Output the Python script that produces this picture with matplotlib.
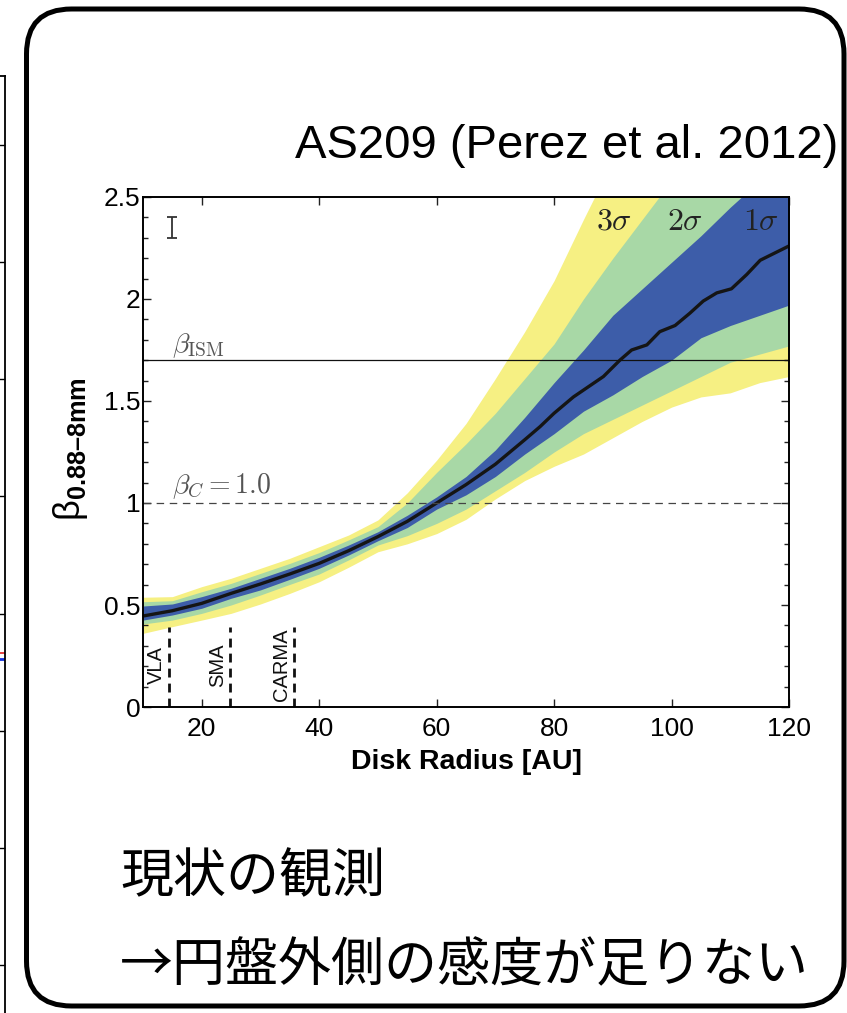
import matplotlib
matplotlib.use("Agg")
import matplotlib.pyplot as plt
from matplotlib.patches import FancyBboxPatch
from matplotlib.ticker import MultipleLocator

# ---------------- data ----------------
radius = [10, 15, 20, 25, 30, 35, 40, 45, 50, 55, 60, 65, 70, 75, 80,
          85, 90, 95, 100, 105, 110, 115, 120]

beta_3sig_lo = [0.361, 0.394, 0.426, 0.459, 0.505, 0.557, 0.614, 0.685, 0.761, 0.80, 0.85, 0.92,
                1.02, 1.11, 1.18, 1.24, 1.32, 1.40, 1.47, 1.52, 1.54, 1.59, 1.62]
beta_3sig_hi = [0.538, 0.541, 0.590, 0.631, 0.680, 0.729, 0.786, 0.843, 0.917, 1.05, 1.21, 1.39,
                1.61, 1.84, 2.09, 2.39, 2.68, 2.90, 3.10, 3.30, 3.50, 3.70, 3.90]
beta_2sig_lo = [0.407, 0.426, 0.459, 0.500, 0.549, 0.601, 0.652, 0.721, 0.794, 0.84, 0.90, 0.97,
                1.06, 1.15, 1.25, 1.34, 1.41, 1.48, 1.55, 1.62, 1.69, 1.73, 1.77]
beta_2sig_hi = [0.516, 0.521, 0.565, 0.606, 0.655, 0.704, 0.757, 0.819, 0.884, 1.00, 1.15, 1.29,
                1.44, 1.61, 1.78, 2.00, 2.20, 2.39, 2.58, 2.78, 2.98, 3.18, 3.38]
beta_1sig_lo = [0.426, 0.451, 0.484, 0.533, 0.574, 0.626, 0.680, 0.745, 0.815, 0.88, 0.97, 1.04,
                1.13, 1.24, 1.34, 1.45, 1.53, 1.62, 1.70, 1.81, 1.87, 1.92, 1.97]
beta_1sig_hi = [0.495, 0.505, 0.541, 0.582, 0.631, 0.680, 0.734, 0.794, 0.859, 0.94, 1.03, 1.13,
                1.26, 1.42, 1.59, 1.75, 1.92, 2.05, 2.18, 2.31, 2.45, 2.58, 2.71]

radius_med = [10, 15, 20, 25, 30, 35, 40, 45, 50, 55, 60, 65, 70, 75, 77.6, 80, 83.3, 88.4,
              91.2, 93.2, 95.8, 98.0, 100.6, 103.1, 105.4, 107.7, 110.2, 112.8, 115.1, 117.9, 120]
beta_med = [0.446, 0.472, 0.508, 0.557, 0.603, 0.652, 0.704, 0.766, 0.835, 0.91, 1.00, 1.09,
            1.19, 1.31, 1.374, 1.44, 1.52, 1.62, 1.70, 1.75, 1.775, 1.84, 1.87, 1.93, 1.99,
            2.03, 2.05, 2.12, 2.19, 2.23, 2.26]

beta_ism = 1.7
beta_c = 1.0
instruments = ["VLA", "SMA", "CARMA"]
instrument_radius = [14.4, 24.8, 35.7]
instrument_beta_top = 0.39
errbar_radius = 14.9
errbar_beta = 2.35
errbar_half = 0.05
sigma_labels = [r"$3\sigma$", r"$2\sigma$", r"$1\sigma$"]
sigma_label_radius = [87.2, 99.2, 112.2]
sigma_label_beta = 2.34

# neighbouring panel (only its right edge is visible)
side_ticks = [1, 2, 3, 4, 5, 6, 7, 8]
side_line_blue = 3.61
side_line_red = 3.66

title_text = "AS209 (Perez et al. 2012)"
note_lines = ["現状の観測", "→円盤外側の感度が足りない"]
ylabel_text = "$\\mathrm{\\beta}_{\\mathbf{0.88\u20138mm}}$"

# ---------------- style ----------------
SANS = "Liberation Sans"
plt.rcParams["font.family"] = [SANS, "DejaVu Sans"]
plt.rcParams["mathtext.fontset"] = "cm"
plt.rcParams["mathtext.rm"] = SANS
plt.rcParams["mathtext.bf"] = SANS + ":bold"
plt.rcParams["mathtext.it"] = SANS + ":italic"

C_YEL = "#F6F083"
C_GRN = "#A8D8A6"
C_BLU = "#3D5DA9"

W, H = 847, 1013
fig = plt.figure(figsize=(W / 100, H / 100), dpi=100)
fig.patch.set_facecolor("white")


def fx(px):
    return px / W


def fy(py):
    return 1 - py / H


# ---- neighbouring panel edge ----
axs = fig.add_axes([fx(-300), fy(1013), fx(304.5), fy(76) - fy(1013)])
axs.set_xlim(0, 1)
axs.set_ylim(0.59, 8.59)
axs.plot([0.9, 1.0], [side_line_red, side_line_red], color="#e02020", lw=1.2, solid_capstyle="butt")
axs.plot([0.9, 1.0], [side_line_blue, side_line_blue], color="#1030e0", lw=2.0, solid_capstyle="butt")
for s in ["left", "bottom"]:
    axs.spines[s].set_visible(False)
for s in ["right", "top"]:
    axs.spines[s].set_linewidth(1.3)
axs.set_xticks([])
axs.yaxis.tick_right()
axs.set_yticks(side_ticks)
axs.tick_params(axis="y", direction="in", length=4, width=1.0, labelright=False)
axs.set_zorder(0)

# ---- rounded frame ----
frame = FancyBboxPatch((26.5 / 100, (H - 1006) / 100), (844 - 26.5) / 100, (1006 - 9) / 100,
                       boxstyle="round,pad=0,rounding_size=0.45",
                       transform=fig.dpi_scale_trans, facecolor="white",
                       edgecolor="black", linewidth=3.6, zorder=1)
fig.patches.append(frame)

# ---- main axes ----
ax = fig.add_axes([fx(143), fy(707), fx(789) - fx(143), fy(197) - fy(707)])
ax.set_zorder(2)
ax.patch.set_alpha(0)

ax.fill_between(radius, beta_3sig_lo, beta_3sig_hi, color=C_YEL, lw=0, zorder=1)
ax.fill_between(radius, beta_2sig_lo, beta_2sig_hi, color=C_GRN, lw=0, zorder=2)
ax.fill_between(radius, beta_1sig_lo, beta_1sig_hi, color=C_BLU, lw=0, zorder=3)
ax.plot(radius_med, beta_med, color="#151515", lw=2.4, zorder=5, solid_joinstyle="round")

ax.axhline(beta_ism, color="#111111", lw=0.9, zorder=6)
ax.axhline(beta_c, color="#444444", lw=0.9, ls=(0, (6, 4.5)), zorder=6)

ax.text(14.9, beta_ism + 0.04, r"$\beta_{\rm ISM}$", fontsize=20, color="#555555",
        ha="left", va="baseline", math_fontfamily="cm")
ax.text(14.9, beta_c + 0.05, r"$\beta_C = 1.0$", fontsize=20, color="#555555",
        ha="left", va="baseline", math_fontfamily="cm")

for name, r in zip(instruments, instrument_radius):
    ax.plot([r, r], [0, instrument_beta_top], color="#111111", lw=2.0,
            ls=(0, (3.2, 2.2)), zorder=6)
    ax.text(r - 0.5, 0.205, name, rotation=90, ha="right", va="center", fontsize=14.5,
            color="#111111")

ax.errorbar([errbar_radius], [errbar_beta], yerr=[errbar_half], fmt="none",
            ecolor="#333333", elinewidth=1.3, capsize=3.5, capthick=1.3, zorder=6)

for lab, r in zip(sigma_labels, sigma_label_radius):
    ax.text(r, sigma_label_beta, lab, fontsize=23, color="#222222", ha="left",
            va="baseline", math_fontfamily="cm", zorder=7)

ax.set_xlim(10, 120)
ax.set_ylim(0, 2.5)
ax.xaxis.set_major_locator(MultipleLocator(20))
ax.yaxis.set_major_locator(MultipleLocator(0.5))
ax.yaxis.set_minor_locator(MultipleLocator(0.1))
ax.set_yticks([0, 0.5, 1, 1.5, 2, 2.5])
ax.set_yticklabels(["0", "0.5", "1", "1.5", "2", "2.5"])
ax.tick_params(axis="both", which="both", direction="in", top=True, right=True,
               labelsize=19, width=1.0, color="#222222")
ax.tick_params(axis="both", which="major", length=6)
ax.tick_params(axis="both", which="minor", length=3.5)
ax.tick_params(axis="y", pad=2)
ax.tick_params(axis="x", pad=7)
for s in ax.spines.values():
    s.set_linewidth(1.4)
    s.set_zorder(8)

ax.set_xlabel("Disk Radius [AU]", fontsize=20.5, fontweight="bold", labelpad=6)
ax.text(-0.113, 0.505, ylabel_text, transform=ax.transAxes,
        rotation=90, ha="center", va="center", fontsize=26, math_fontfamily="custom")

# ---- title and notes ----
fig.text(fx(838), fy(146), title_text, fontsize=34, ha="right", va="center", zorder=3)
for i, line in enumerate(note_lines):
    fig.text(fx(120), fy(877 + 89 * i), line, fontsize=38.2, ha="left", va="center",
             family=["Noto Sans CJK JP", "DejaVu Sans"], zorder=3)

fig.savefig("out.png", dpi=100, facecolor="white")
